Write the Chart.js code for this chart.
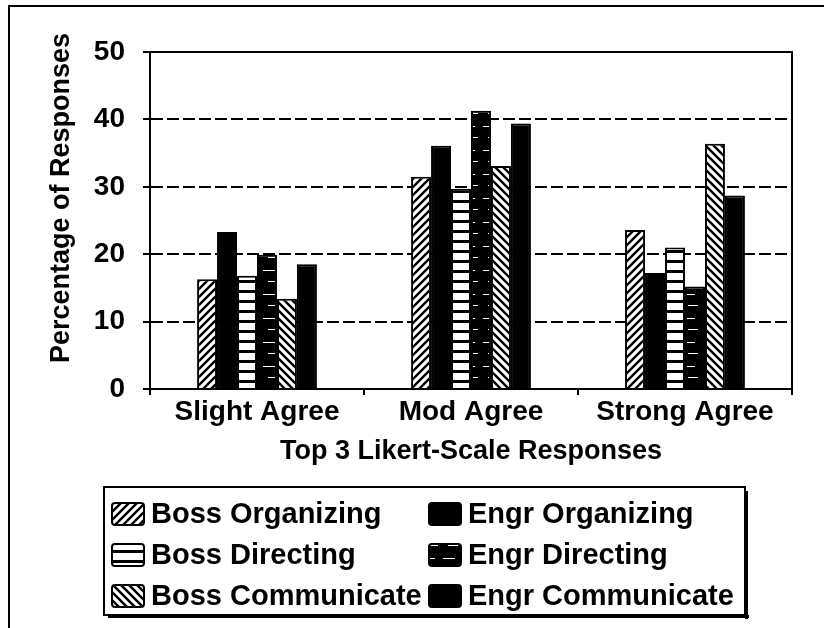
<!DOCTYPE html>
<html>
<head>
<meta charset="utf-8">
<script src="https://cdn.jsdelivr.net/npm/chart.js@4"></script>
<style>
  html, body { margin: 0; padding: 0; background: #fff; }
</style>
</head>
<body>
<canvas id="myChart" width="829" height="628"></canvas>
<script>
// data
var categories = ["Slight Agree", "Mod Agree", "Strong Agree"];
var seriesNames = ["Boss Organizing", "Engr Organizing", "Boss Directing", "Engr Directing", "Boss Communicate", "Engr Communicate"];
var bossOrganizing = [16.3, 31.5, 23.6];
var engrOrganizing = [23.3, 36.1, 17.2];
var bossDirecting = [16.8, 29.7, 21.0];
var engrDirecting = [19.9, 41.3, 15.2];
var bossCommunicate = [13.4, 33.1, 36.4];
var engrCommunicate = [18.5, 39.4, 28.7];
var yTicks = [0, 10, 20, 30, 40, 50];
var yTitle = "Percentage of Responses";
var xTitle = "Top 3 Likert-Scale Responses";

var FAMILY = "'Liberation Sans', Arial, sans-serif";
var TICK_FONT = { family: FAMILY, size: 28, weight: "bold" };
var TITLE_FONT = { family: FAMILY, size: 27, weight: "bold" };

// black & white fills like the old printout
function makePattern(kind) {
  if (kind === "solid") return "#000";
  var c = document.createElement("canvas");
  var g = c.getContext("2d");
  if (kind === "fwd" || kind === "back") {
    c.width = 8; c.height = 8;
    g.fillStyle = "#fff"; g.fillRect(0, 0, 8, 8);
    g.strokeStyle = "#000"; g.lineWidth = 2.4;
    g.beginPath();
    if (kind === "fwd") {
      g.moveTo(-2, 10); g.lineTo(10, -2);
      g.moveTo(-2, 2); g.lineTo(2, -2);
      g.moveTo(6, 10); g.lineTo(10, 6);
    } else {
      g.moveTo(-2, -2); g.lineTo(10, 10);
      g.moveTo(6, -2); g.lineTo(10, 2);
      g.moveTo(-2, 6); g.lineTo(2, 10);
    }
    g.stroke();
  } else if (kind === "hstripe") {
    c.width = 10; c.height = 10;
    g.fillStyle = "#fff"; g.fillRect(0, 0, 10, 10);
    g.fillStyle = "#000"; g.fillRect(0, 0, 10, 3);
  } else if (kind === "dark") {
    c.width = 20; c.height = 24;
    g.fillStyle = "#000"; g.fillRect(0, 0, 20, 24);
    g.fillStyle = "#fff";
    g.fillRect(3, 6, 12, 1);
    g.fillRect(8, 17, 10, 1);
  }
  return g.createPattern(c, "repeat");
}

var fills = [makePattern("fwd"), makePattern("solid"), makePattern("hstripe"),
             makePattern("dark"), makePattern("back"), makePattern("solid")];
var values = [bossOrganizing, engrOrganizing, bossDirecting, engrDirecting, bossCommunicate, engrCommunicate];

var datasets = [];
for (var i = 0; i < seriesNames.length; i++) {
  datasets.push({
    label: seriesNames[i],
    data: values[i],
    backgroundColor: fills[i],
    borderColor: "#000",
    borderWidth: 2,
    categoryPercentage: 0.56,
    barPercentage: 1.0
  });
}

// outer frame of the figure, solid top/right of plot area, y title
var framePlugin = {
  id: "frame",
  beforeDatasetsDraw: function (chart) {
    var ctx = chart.ctx, a = chart.chartArea;
    ctx.save();
    ctx.strokeStyle = "#000";
    ctx.lineWidth = 2;
    ctx.beginPath();
    ctx.moveTo(a.left, a.top);
    ctx.lineTo(a.right, a.top);
    ctx.lineTo(a.right, a.bottom);
    ctx.stroke();
    ctx.restore();
  },
  afterDraw: function (chart) {
    var ctx = chart.ctx;
    ctx.save();
    ctx.strokeStyle = "#000";
    ctx.lineWidth = 2;
    ctx.beginPath();
    ctx.moveTo(9, 640);
    ctx.lineTo(9, 6);
    ctx.lineTo(824, 6);
    ctx.stroke();
    // y axis title sits a bit above the plot centre in the original
    ctx.translate(62, 198);
    ctx.rotate(-Math.PI / 2);
    ctx.font = "bold 27px " + FAMILY;
    ctx.fillStyle = "#000";
    ctx.textAlign = "center";
    ctx.textBaseline = "middle";
    ctx.fillText(yTitle, 0, 0);
    ctx.restore();
  }
};

// boxed two-column legend
var legendPlugin = {
  id: "boxLegend",
  afterDraw: function (chart) {
    var ctx = chart.ctx;
    var L = 104, T = 487, R = 745, B = 615;
    ctx.save();
    ctx.fillStyle = "#000";
    ctx.fillRect(L + 4, B, R - L, 3);
    ctx.fillRect(R, T + 4, 3, B - T);
    ctx.strokeStyle = "#000";
    ctx.lineWidth = 2;
    ctx.strokeRect(L, T, R - L, B - T);
    ctx.font = "bold 29px " + FAMILY;
    ctx.textBaseline = "middle";
    ctx.textAlign = "left";
    chart.data.datasets.forEach(function (ds, i) {
      var col = i % 2, row = Math.floor(i / 2);
      var ix = col === 0 ? 112 : 429;
      var cy = 514 + row * 41;
      ctx.beginPath();
      ctx.roundRect(ix, cy - 11, 32, 22, 3);
      ctx.fillStyle = ds.backgroundColor;
      ctx.fill();
      ctx.lineWidth = 2;
      ctx.strokeStyle = "#000";
      ctx.stroke();
      ctx.fillStyle = "#000";
      ctx.fillText(ds.label, ix + 39, cy + 1);
    });
    ctx.restore();
  }
};

new Chart("myChart", {
  type: "bar",
  data: { labels: categories, datasets: datasets },
  plugins: [framePlugin, legendPlugin],
  options: {
    responsive: false,
    devicePixelRatio: 1,
    animation: false,
    layout: { padding: { top: 52, right: 37, bottom: 160, left: 0 } },
    plugins: { legend: { display: false }, tooltip: { enabled: false } },
    scales: {
      x: {
        grid: { drawOnChartArea: false, color: "#000", lineWidth: 2, tickLength: 6, offset: true },
        border: { color: "#000", width: 2 },
        ticks: { color: "#000", font: TICK_FONT, padding: 0, maxRotation: 0 },
        title: { display: true, text: xTitle, color: "#000", font: TITLE_FONT, padding: { top: 0, bottom: 0 } },
        afterFit: function (s) { s.height = 79; }
      },
      y: {
        min: yTicks[0],
        max: yTicks[yTicks.length - 1],
        afterBuildTicks: function (s) { s.ticks = yTicks.map(function (v) { return { value: v }; }); },
        ticks: { color: "#000", font: TICK_FONT, padding: 18 },
        grid: { color: "#000", lineWidth: 2, tickLength: 7 },
        border: { color: "#000", width: 2, dash: [12, 4] },
        afterFit: function (s) { s.width = 150; }
      }
    }
  }
});
</script>
</body>
</html>
